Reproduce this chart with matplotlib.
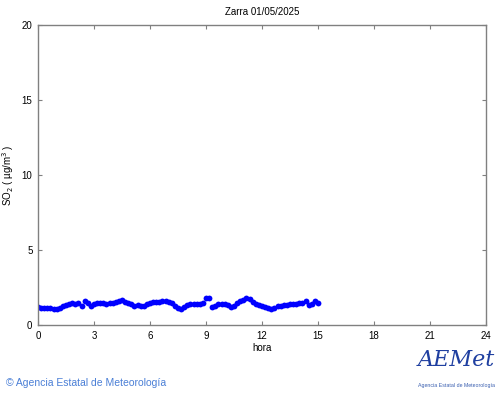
import numpy as np
import matplotlib.pyplot as plt

# SO2 readings every 10 minutes, 00:00 to 15:00
hours = np.arange(91) / 6.0
so2 = [1.18, 1.13, 1.12, 1.15, 1.13, 1.10, 1.07,
       1.15, 1.25, 1.33, 1.40, 1.45, 1.43,
       1.45, 1.29, 1.60, 1.50, 1.27, 1.40,
       1.47, 1.48, 1.45, 1.42, 1.48, 1.50,
       1.55, 1.60, 1.65, 1.55, 1.45, 1.38,
       1.30, 1.33, 1.28, 1.30, 1.38, 1.48,
       1.52, 1.55, 1.52, 1.58, 1.60, 1.55,
       1.45, 1.30, 1.15, 1.04, 1.20, 1.35,
       1.40, 1.38, 1.42, 1.40, 1.50, 1.78,
       1.78, 1.22, 1.30, 1.38, 1.40, 1.40,
       1.35, 1.22, 1.25, 1.45, 1.58, 1.70,
       1.78, 1.72, 1.55, 1.42, 1.35, 1.30,
       1.22, 1.15, 1.05, 1.15, 1.25, 1.27,
       1.35, 1.32, 1.38, 1.40, 1.42, 1.45,
       1.50, 1.62, 1.35, 1.40, 1.60, 1.50]
xticks = [0, 3, 6, 9, 12, 15, 18, 21, 24]
yticks = [0, 5, 10, 15, 20]

plt.rcParams['font.family'] = ['Liberation Sans', 'DejaVu Sans']

fig = plt.figure(figsize=(5, 3.95), dpi=100)
ax = fig.add_axes([0.076, 0.177, 0.896, 0.76])

ax.plot(hours, so2, 'o', color='#0000ff', markersize=4.2, markeredgewidth=0)

ax.set_xlim(0, 24)
ax.set_ylim(0, 20)
ax.set_xticks(xticks)
ax.set_yticks(yticks)
ax.tick_params(direction='in', length=3, width=0.8, color='#808080',
               labelsize=7, top=True, right=True, pad=4)
for s in ax.spines.values():
    s.set_color('#808080')
    s.set_linewidth(1.0)

ax.set_title('Zarra 01/05/2025', fontsize=7, pad=7)
ax.set_xlabel('hora', fontsize=7, labelpad=2)
ax.set_ylabel('SO$_2$ ( µg/m$^3$ )', fontsize=7)
ax.yaxis.set_label_coords(-0.048, 0.5)

fig.text(0.012, 0.03, '© Agencia Estatal de Meteorología', fontsize=7.5,
         color='#4a7fd6', va='center')

# rough stand-in for the AEMet logo
fig.text(0.835, 0.06, 'AEMet', fontsize=16, color='#1f3fa0', style='italic',
         ha='left', va='bottom', family='DejaVu Serif')
fig.text(0.835, 0.025, 'Agencia Estatal de Meteorología', fontsize=3.8,
         color='#3a5fb0', ha='left', va='center')

fig.savefig('out.png', dpi=100)
